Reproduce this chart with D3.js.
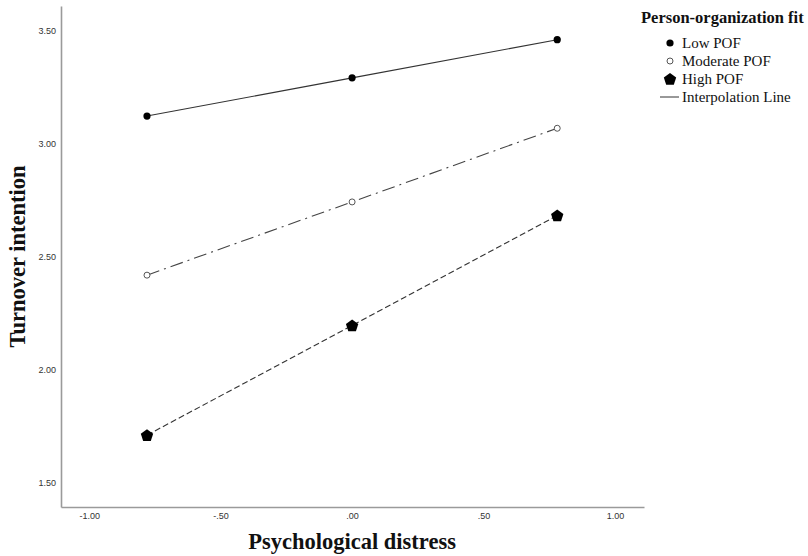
<!DOCTYPE html>
<html>
<head>
<meta charset="utf-8">
<script src="https://cdn.jsdelivr.net/npm/d3@7"></script>
<style>
  body { margin: 0; background: #fff; }
  .tick text { font-family: "Liberation Sans", Arial, sans-serif; font-size: 9px; fill: #333; }
  .aText { font-family: "Liberation Serif", "Times New Roman", serif; font-weight: bold; font-size: 22.5px; fill: #111; }
  .legText { font-family: "Liberation Serif", "Times New Roman", serif; font-size: 15px; fill: #111; }
</style>
</head>
<body>
<div id="chart"></div>
<script>
// Data
var xValues = [-0.78, 0, 0.78];
var seriesNames = ["Low POF", "Moderate POF", "High POF"];
var lowPOF = [3.124, 3.293, 3.462];
var moderatePOF = [2.42, 2.744, 3.07];
var highPOF = [1.712, 2.197, 2.684];
var xTicks = [-1, -0.5, 0, 0.5, 1];
var yTicks = [1.5, 2.0, 2.5, 3.0, 3.5];

var svgWidth = 808;
var svgHeight = 556;

var margin = { top: 6, right: 164, bottom: 49, left: 61 };
var width = svgWidth - margin.left - margin.right;
var height = svgHeight - margin.top - margin.bottom;

var svg = d3.select("#chart")
    .append("svg")
    .attr("width", svgWidth)
    .attr("height", svgHeight);

var chartGroup = svg.append("g")
    .attr("transform", `translate(${margin.left}, ${margin.top})`);

var xScale = d3.scaleLinear()
    .domain([-1.107, 1.11])
    .range([0, width]);

var yScale = d3.scaleLinear()
    .domain([1.394, 3.611])
    .range([height, 0]);

// tick labels like SPSS: ".50", "-.50", "1.00"
function fmt(v) {
    var s = Math.abs(v).toFixed(2);
    if (s.charAt(0) === "0") s = s.slice(1);
    return (v < 0 ? "-" : "") + s;
}

var bottomAxis = d3.axisBottom(xScale).tickValues(xTicks).tickFormat(fmt).tickSize(0).tickPadding(6);
var leftAxis = d3.axisLeft(yScale).tickValues(yTicks).tickFormat(fmt).tickSize(0).tickPadding(5);

var xAxisG = chartGroup.append("g")
    .attr("transform", `translate(0, ${height})`)
    .call(bottomAxis);
var yAxisG = chartGroup.append("g")
    .call(leftAxis);

[xAxisG, yAxisG].forEach(function(g) {
    g.select(".domain").attr("stroke", "#9a9a9a").attr("stroke-width", 1.6);
});

// lines
var series = [
    { name: seriesNames[0], values: lowPOF, dash: null, stroke: "#333" },
    { name: seriesNames[1], values: moderatePOF, dash: "13,5,2,5", stroke: "#444" },
    { name: seriesNames[2], values: highPOF, dash: "6,3", stroke: "#333" }
];

var line = d3.line()
    .x(function(d, i) { return xScale(xValues[i]); })
    .y(function(d) { return yScale(d); });

series.forEach(function(s) {
    chartGroup.append("path")
        .attr("d", line(s.values))
        .attr("fill", "none")
        .attr("stroke", s.stroke)
        .attr("stroke-width", 1.1)
        .attr("stroke-dasharray", s.dash);
});

// markers
function pentPath(r) {
    var pts = [];
    for (var k = 0; k < 5; k++) {
        var a = -Math.PI / 2 + k * 2 * Math.PI / 5;
        pts.push([r * Math.cos(a), r * Math.sin(a)]);
    }
    return "M" + pts.join("L") + "Z";
}

function drawMarker(g, idx, x, y) {
    if (idx === 0) {
        g.append("circle").attr("cx", x).attr("cy", y).attr("r", 3.6).attr("fill", "#000");
    } else if (idx === 1) {
        g.append("circle").attr("cx", x).attr("cy", y).attr("r", 3).attr("fill", "#fff")
            .attr("stroke", "#555").attr("stroke-width", 1);
    } else {
        g.append("path").attr("d", pentPath(6.5)).attr("transform", `translate(${x}, ${y + 0.5})`)
            .attr("fill", "#000");
    }
}

series.forEach(function(s, idx) {
    s.values.forEach(function(v, i) {
        drawMarker(chartGroup, idx, xScale(xValues[i]), yScale(v));
    });
});

// axis titles
svg.append("text")
    .attr("class", "aText")
    .attr("transform", `translate(25, ${margin.top + height / 2}) rotate(-90)`)
    .attr("text-anchor", "middle")
    .text("Turnover intention");

svg.append("text")
    .attr("class", "aText")
    .attr("x", margin.left + xScale(0))
    .attr("y", 549)
    .attr("text-anchor", "middle")
    .text("Psychological distress");

// legend
var legend = svg.append("g").attr("transform", "translate(641, 0)");
legend.append("text")
    .attr("class", "legText")
    .attr("x", 0)
    .attr("y", 23)
    .style("font-weight", "bold")
    .style("font-size", "16.5px")
    .text("Person-organization fit");

var legY = [48, 66, 84];
seriesNames.forEach(function(name, idx) {
    drawMarker(legend, idx, 29, legY[idx] - 5);
    legend.append("text")
        .attr("class", "legText")
        .attr("x", 41)
        .attr("y", legY[idx])
        .text(name);
});
legend.append("line")
    .attr("x1", 19).attr("x2", 38)
    .attr("y1", 97).attr("y2", 97)
    .attr("stroke", "#333").attr("stroke-width", 1);
legend.append("text")
    .attr("class", "legText")
    .attr("x", 41)
    .attr("y", 102)
    .text("Interpolation Line");
</script>
</body>
</html>
